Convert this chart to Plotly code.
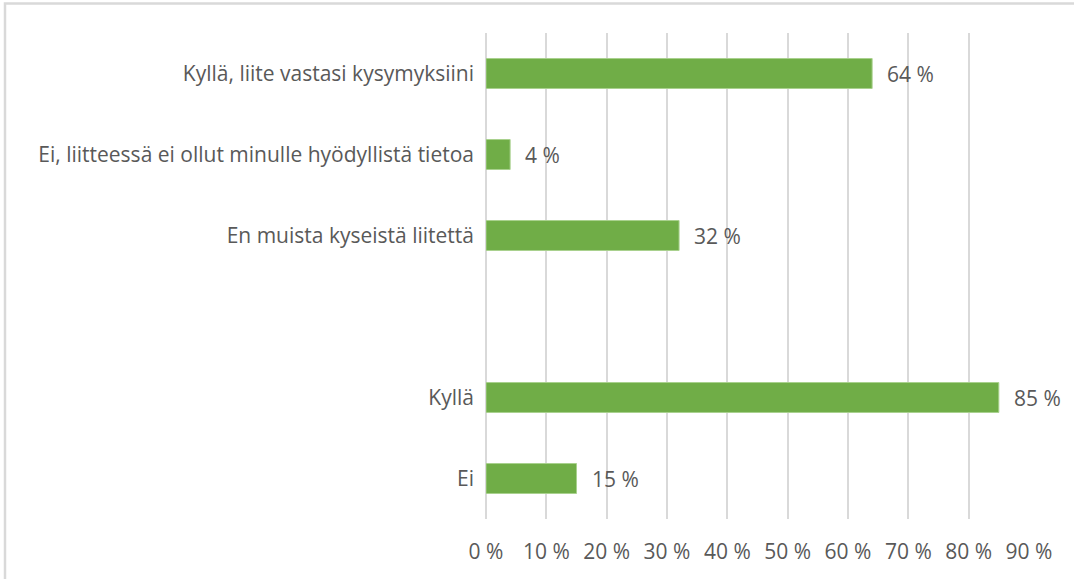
import plotly.graph_objects as go

categories = [
    "Kyllä, liite vastasi kysymyksiini",
    "Ei, liitteessä ei ollut minulle hyödyllistä tietoa",
    "En muista kyseistä liitettä",
    " ",
    "Kyllä",
    "Ei",
]
values = [0.64, 0.04, 0.32, None, 0.85, 0.15]
labels = ["64 %", "4 %", "32 %", "", "85 %", "15 %"]
xticks = [0, 0.1, 0.2, 0.3, 0.4, 0.5, 0.6, 0.7, 0.8, 0.9]
xticklabels = ["0 %", "10 %", "20 %", "30 %", "40 %", "50 %", "60 %", "70 %", "80 %", "90 %"]

W, H = 1074, 579
L, R, T, B = 486, 45, 33, 60
pw, ph = W - L - R, H - T - B

fig = go.Figure(go.Bar(
    y=categories, x=values, orientation="h",
    marker=dict(color="#70AD47", line=dict(color="#A9D18E", width=1)),
))

# data labels, placed a bit right of each bar end
for cat, v, lab in zip(categories, values, labels):
    if v is None:
        continue
    fig.add_annotation(x=v, y=cat, text=lab, showarrow=False,
                       xanchor="left", xshift=13,
                       font=dict(size=21, color="#595959"))

fig.update_layout(
    width=W, height=H,
    margin=dict(l=L, r=R, t=T, b=B),
    paper_bgcolor="white", plot_bgcolor="white",
    font=dict(family="Open Sans", size=21, color="#595959"),
    bargap=0.63,
    showlegend=False,
    xaxis=dict(range=[0, 0.9], tickvals=xticks, ticktext=xticklabels,
               showgrid=True, gridcolor="#D9D9D9", gridwidth=2,
               zeroline=True, zerolinecolor="#D9D9D9", zerolinewidth=2,
               showline=False, ticks="",
               ticklabelstandoff=18, tickfont=dict(size=21)),
    yaxis=dict(categoryorder="array", categoryarray=categories,
               autorange="reversed", showgrid=False, zeroline=False,
               ticks="", ticklabelstandoff=11, tickfont=dict(size=21)),
    shapes=[dict(type="rect", xref="paper", yref="paper",
                 x0=(5 - L) / pw, x1=(W + 20 - L) / pw,
                 y0=(ph + T - (H + 20)) / ph, y1=(ph + T - 3.5) / ph,
                 line=dict(color="#D9D9D9", width=2.5), layer="below")],
)

fig.write_html("out.html", config={"displayModeBar": False},
               post_script="document.body.style.margin='0px';")
